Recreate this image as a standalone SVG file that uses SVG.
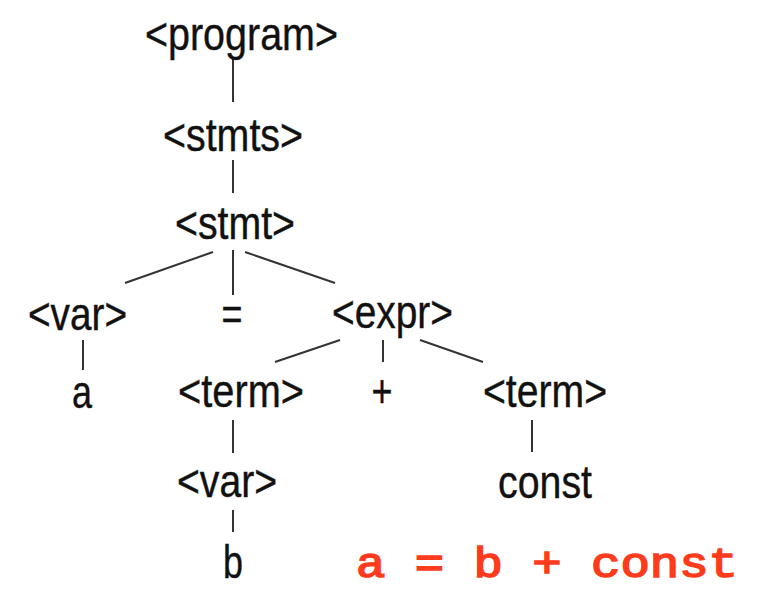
<svg xmlns="http://www.w3.org/2000/svg" width="763" height="591" viewBox="0 0 763 591">
<style>
.n{font-family:"Liberation Sans",Arial,sans-serif;font-size:46px;fill:#111;stroke:#111;stroke-width:0.4;text-anchor:middle}
.e{stroke:#333;stroke-width:2;fill:none}
.code{font-family:"Liberation Mono","Courier New",monospace;font-size:43px;fill:#ff3b1d;stroke:#ff3b1d;stroke-width:1.6}
</style>
<rect width="763" height="591" fill="#fff"/>
<g id="connectors">
<line class="e" x1="233" y1="58" x2="233" y2="102"/>
<line class="e" x1="233" y1="160" x2="233" y2="193"/>
<line class="e" x1="213" y1="252" x2="125" y2="283"/>
<line class="e" x1="233" y1="250" x2="233" y2="295"/>
<line class="e" x1="245" y1="252" x2="335" y2="283"/>
<line class="e" x1="83" y1="340" x2="83" y2="370"/>
<line class="e" x1="340" y1="340" x2="275" y2="362"/>
<line class="e" x1="383" y1="340" x2="383" y2="362"/>
<line class="e" x1="420" y1="340" x2="483" y2="362"/>
<line class="e" x1="233" y1="420" x2="233" y2="453"/>
<line class="e" x1="532" y1="420" x2="532" y2="452"/>
<line class="e" x1="233" y1="510" x2="233" y2="532"/>
</g>
<g id="program"><text class="n" x="241.5" y="50" textLength="193" lengthAdjust="spacingAndGlyphs">&lt;program&gt;</text></g>
<g id="stmts"><text class="n" x="233" y="151" textLength="140" lengthAdjust="spacingAndGlyphs">&lt;stmts&gt;</text></g>
<g id="stmt"><text class="n" x="235" y="239" textLength="120" lengthAdjust="spacingAndGlyphs">&lt;stmt&gt;</text></g>
<g id="var1"><text class="n" x="77.5" y="330" textLength="99" lengthAdjust="spacingAndGlyphs">&lt;var&gt;</text></g>
<g id="eq"><text class="n" x="232" y="330" textLength="21" lengthAdjust="spacingAndGlyphs">=</text></g>
<g id="expr"><text class="n" x="392.5" y="328" textLength="121" lengthAdjust="spacingAndGlyphs">&lt;expr&gt;</text></g>
<g id="a"><text class="n" x="82" y="408" textLength="20" lengthAdjust="spacingAndGlyphs">a</text></g>
<g id="term1"><text class="n" x="241" y="407" textLength="126" lengthAdjust="spacingAndGlyphs">&lt;term&gt;</text></g>
<g id="plus"><text class="n" x="382" y="407" textLength="21" lengthAdjust="spacingAndGlyphs">+</text></g>
<g id="term2"><text class="n" x="545" y="407" textLength="124" lengthAdjust="spacingAndGlyphs">&lt;term&gt;</text></g>
<g id="var2"><text class="n" x="227" y="497" textLength="100" lengthAdjust="spacingAndGlyphs">&lt;var&gt;</text></g>
<g id="const"><text class="n" x="545" y="498" textLength="94" lengthAdjust="spacingAndGlyphs">const</text></g>
<g id="b"><text class="n" x="233" y="578" textLength="20" lengthAdjust="spacingAndGlyphs">b</text></g>
<text class="code" x="356" y="577" textLength="382" lengthAdjust="spacingAndGlyphs">a = b + const</text>
</svg>
